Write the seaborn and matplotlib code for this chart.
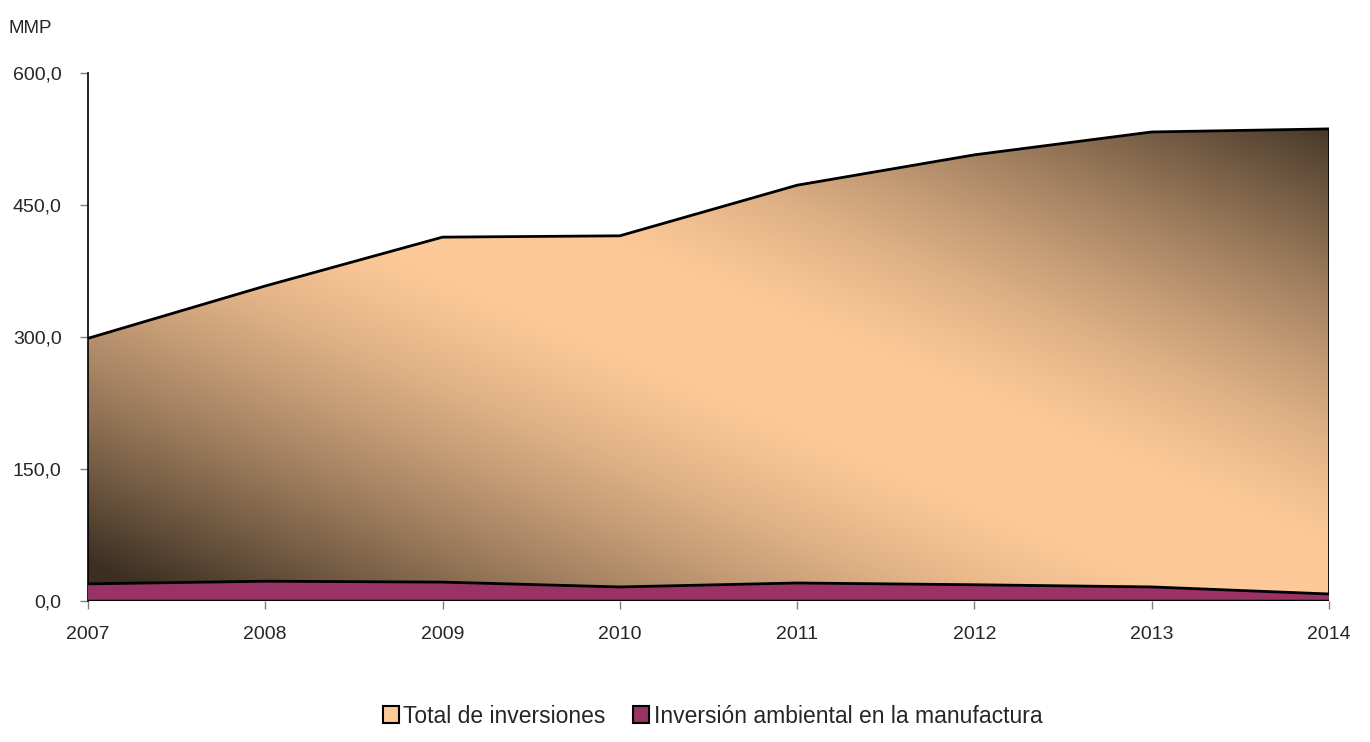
import numpy as np
import pandas as pd
import seaborn as sns
from matplotlib import pyplot as plt
from matplotlib.patches import Patch
from matplotlib.colors import to_rgb
from matplotlib.ticker import FuncFormatter

# values (MMP)
years = [2007, 2008, 2009, 2010, 2011, 2012, 2013, 2014]
total_inversiones = [298.5, 358.0, 413.5, 415.0, 472.5, 507.0, 533.0, 536.5]
inversion_manufactura = [19.5, 22.5, 21.5, 16.0, 20.5, 18.5, 16.0, 8.0]
yticks = [0, 150, 300, 450, 600]
labels = ["Total de inversiones", "Inversión ambiental en la manufactura"]

light = "#fdc998"
dark = "#3c2f22"
magenta = "#993366"

df = pd.DataFrame({"year": years, "total": total_inversiones, "manuf": inversion_manufactura})

sns.set_style("white")
plt.rcParams["font.family"] = ["Liberation Sans", "DejaVu Sans"]

fig = plt.figure(figsize=(13.7, 7.42), dpi=100)
ax = fig.add_axes([0.0642, 0.19, 0.9058, 0.7116])

# gradient fill for the total area: light along the diagonal, dark at the corners
ny, nx = 300, 600
u = np.linspace(0, 1, nx)[None, :]
v = np.linspace(0, 1, ny)[:, None]
d = np.clip((np.abs(v - u) - 0.08) / 0.85, 0, 1) ** 1.4
c0 = np.array(to_rgb(light))
c1 = np.array(to_rgb(dark))
img = c0[None, None, :] * (1 - d[..., None]) + c1[None, None, :] * d[..., None]

poly = ax.fill_between(df["year"], 0, df["total"], facecolor="none", edgecolor="none")
im = ax.imshow(img, extent=[2007, 2014, 0, 600], origin="upper", aspect="auto", zorder=1)
im.set_clip_path(poly.get_paths()[0], transform=ax.transData)

sns.lineplot(data=df, x="year", y="total", color="black", lw=2.0, ax=ax, zorder=3)
ax.plot([2014, 2014], [0, df["total"].iloc[-1]], color="black", lw=2.0, zorder=3)

ax.fill_between(df["year"], 0, df["manuf"], facecolor=magenta, edgecolor="none", zorder=4)
sns.lineplot(data=df, x="year", y="manuf", color="black", lw=2.0, ax=ax, zorder=5)
ax.plot([2007, 2014], [0, 0], color="black", lw=2.5, zorder=6)

ax.set_xlim(2007, 2014)
ax.set_ylim(0, 600)
ax.set_xticks(years)
ax.set_yticks(yticks)
ax.yaxis.set_major_formatter(FuncFormatter(lambda val, pos: f"{val:.1f}".replace(".", ",")))
ax.tick_params(axis="both", which="major", labelsize=14, length=6, width=1, color="#808080",
               direction="out", bottom=True, left=True)
ax.tick_params(axis="y", pad=13)
ax.tick_params(axis="x", pad=12)
ax.set_xlabel("")
ax.set_ylabel("")
for side in ["top", "right"]:
    ax.spines[side].set_visible(False)
ax.spines["left"].set_color("black")
ax.spines["left"].set_linewidth(1.2)
ax.spines["bottom"].set_visible(False)

fig.text(0.006, 0.962, "MMP", fontsize=13.5, ha="left", va="center")

handles = [Patch(facecolor=light, edgecolor="black", lw=1.5),
           Patch(facecolor=magenta, edgecolor="black", lw=1.5)]
fig.legend(handles, labels, loc="center", bbox_to_anchor=(0.52, 0.035), ncol=2, frameon=False,
           fontsize=16.5, handlelength=0.7, handleheight=0.7, handletextpad=0.2, columnspacing=1.2)

fig.savefig("out.png", dpi=100)
